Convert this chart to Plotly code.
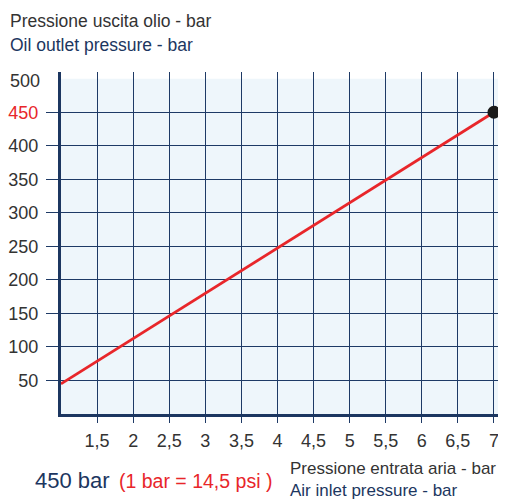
import plotly.graph_objects as go

# Data
air_in = [1, 7]              # Pressione entrata aria - bar
oil_out = [45, 450]          # Pressione uscita olio - bar
max_point_x = [7]
max_point_y = [450]
x_tickvals = [1.5, 2, 2.5, 3, 3.5, 4, 4.5, 5, 5.5, 6, 6.5, 7]
x_ticktext = ["1,5", "2", "2,5", "3", "3,5", "4", "4,5", "5", "5,5", "6", "6,5", "7"]
y_tickvals = [50, 100, 150, 200, 250, 300, 350, 400, 450]
y_ticktext = ["50", "100", "150", "200", "250", "300", "350", "400",
              "<span style='color:#e8262a'>450</span>"]

NAVY = "#1c3660"
GRID = "#1e3a66"
FONT = "Liberation Sans, Arial, sans-serif"

fig = go.Figure()
fig.add_trace(go.Scatter(x=air_in, y=oil_out, mode="lines",
                         line=dict(color="#e8262a", width=2.7),
                         hoverinfo="skip", showlegend=False))
fig.add_trace(go.Scatter(x=max_point_x, y=max_point_y, mode="markers",
                         marker=dict(color="#1a1a1a", size=13),
                         cliponaxis=False, showlegend=False))

# light shaded plot area up to 500
fig.add_shape(type="rect", xref="x", yref="y", x0=1, x1=7.07, y0=0, y1=500,
              fillcolor="#eef6fb", line=dict(width=0), layer="below")

fig.update_xaxes(range=[1, 7.07], tickvals=x_tickvals, ticktext=x_ticktext,
                 automargin=False,
                 showgrid=True, gridcolor=GRID, gridwidth=1.3,
                 ticks="outside", ticklen=6, tickcolor=GRID, tickwidth=1.3,
                 ticklabelstandoff=2,
                 showline=True, linecolor=NAVY, linewidth=3,
                 zeroline=False, tickfont=dict(family=FONT, size=18, color="#333333"))
fig.update_yaxes(range=[0, 510], tickvals=y_tickvals, ticktext=y_ticktext,
                 automargin=False,
                 showgrid=True, gridcolor=GRID, gridwidth=1.3,
                 ticks="outside", ticklen=12, tickcolor=GRID, tickwidth=1.3,
                 ticklabelstandoff=4,
                 showline=True, linecolor=NAVY, linewidth=3,
                 zeroline=False, tickfont=dict(family=FONT, size=18, color="#333333"))

# window coords -> paper coords (plot area spans x 61..499, y 72..414 in the window)
pw, ph = 438, 342
def px(x):
    return (x - 61) / pw
def py(y):
    return (414 - y) / ph

ann = [
    dict(text="500", x=px(42), y=py(81), xanchor="right", font=dict(size=18, color="#333333")),
    dict(text="Pressione uscita olio - bar", x=px(8), y=py(21), xanchor="left", font=dict(size=17.5, color="#333333")),
    dict(text="Oil outlet pressure - bar", x=px(8), y=py(45), xanchor="left", font=dict(size=17.5, color=NAVY)),
    dict(text="450 bar", x=px(33), y=py(480), xanchor="left", font=dict(size=22, color=NAVY)),
    dict(text="(1 bar = 14,5 psi )", x=px(117), y=py(481), xanchor="left", font=dict(size=19.5, color="#e8262a")),
    dict(text="Pressione entrata aria - bar", x=px(288), y=py(468), xanchor="left", font=dict(size=17, color="#333333")),
    dict(text="Air inlet pressure - bar", x=px(288), y=py(490), xanchor="left", font=dict(size=17, color=NAVY)),
]
for a in ann:
    a.update(xref="paper", yref="paper", yanchor="middle", showarrow=False)
    a["font"].setdefault("family", FONT)
fig.update_layout(annotations=ann)

# page body has an 8px margin, so the figure is 8px smaller and offset
fig.update_layout(width=498, height=491, margin=dict(l=53, r=7, t=64, b=85, autoexpand=False),
                  plot_bgcolor="white", paper_bgcolor="white",
                  font=dict(family=FONT), showlegend=False)

fig.write_html("out.html")
